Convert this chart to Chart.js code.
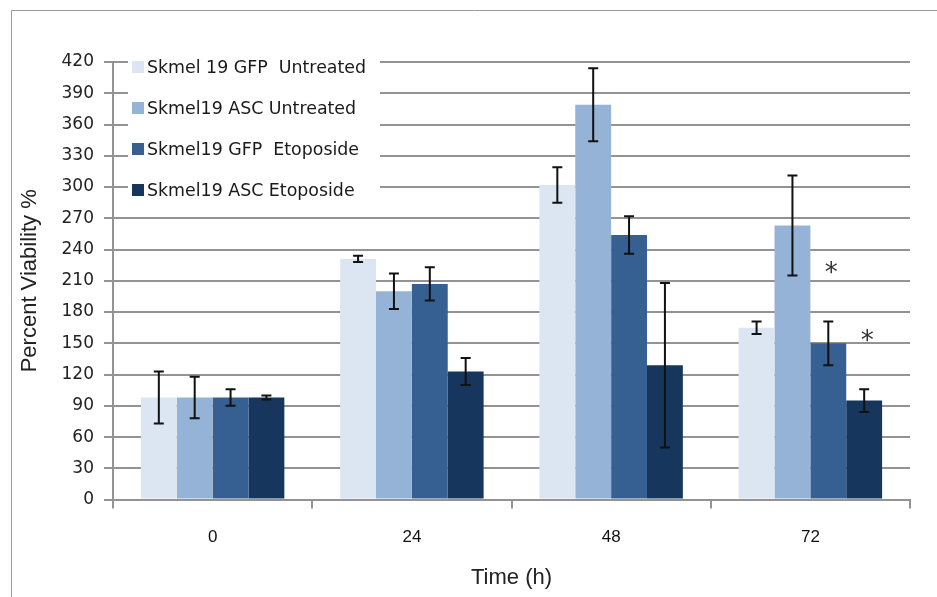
<!DOCTYPE html>
<html lang="en">
<head>
  <meta charset="UTF-8" />
  <title>Skmel19 viability</title>
  <script src="https://cdn.jsdelivr.net/npm/chart.js@4.4.1/dist/chart.umd.min.js"></script>
  <style>
    html, body { margin: 0; padding: 0; background: #fff; }
    #wrap { width: 937px; height: 597px; position: relative; }
  </style>
</head>
<body>
  <div id="wrap"><canvas id="chart"></canvas></div>
  <script>
// time points and the four cell lines
const hours = ['0', '24', '48', '72']
const seriesNames = [
  'Skmel 19 GFP  Untreated',
  'Skmel19 ASC Untreated',
  'Skmel19 GFP  Etoposide',
  'Skmel19 ASC Etoposide'
]
const seriesColors = ['#dce6f2', '#95b3d7', '#366092', '#17365d']

// mean percent viability per time point
const gfpUntreated = [98, 231, 302, 165]
const ascUntreated = [98, 200, 379, 263]
const gfpEtoposide = [98, 207, 254, 150]
const ascEtoposide = [98, 123, 129, 95]

// error bar half-widths
const gfpUntreatedErr = [25, 3, 17, 6]
const ascUntreatedErr = [20, 17, 35, 48]
const gfpEtoposideErr = [8, 16, 18, 21]
const ascEtoposideErr = [2, 13, 79, 11]

// significance stars: [series index, time index]
const stars = [[2, 3], [3, 3]]

const yTicks = [0, 30, 60, 90, 120, 150, 180, 210, 240, 270, 300, 330, 360, 390, 420]

const values = [gfpUntreated, ascUntreated, gfpEtoposide, ascEtoposide]
const errors = [gfpUntreatedErr, ascUntreatedErr, gfpEtoposideErr, ascEtoposideErr]

const gridGray = '#939393'

// frame lines on the top and left of the figure
const framePlugin = {
  id: 'frame',
  beforeDraw(chart) {
    const ctx = chart.ctx
    ctx.save()
    ctx.strokeStyle = '#9a9a9a'
    ctx.lineWidth = 1
    ctx.beginPath()
    ctx.moveTo(11.5, 597)
    ctx.lineTo(11.5, 10.5)
    ctx.lineTo(937, 10.5)
    ctx.stroke()
    ctx.restore()
  }
}

const errorBarPlugin = {
  id: 'errorBars',
  afterDatasetsDraw(chart) {
    const ctx = chart.ctx
    const y = chart.scales.y
    ctx.save()
    ctx.strokeStyle = '#111'
    ctx.lineWidth = 2
    chart.data.datasets.forEach((ds, i) => {
      const meta = chart.getDatasetMeta(i)
      meta.data.forEach((bar, j) => {
        const v = values[i][j]
        const e = errors[i][j]
        const top = y.getPixelForValue(v + e)
        const bot = y.getPixelForValue(v - e)
        ctx.beginPath()
        ctx.moveTo(bar.x, top)
        ctx.lineTo(bar.x, bot)
        ctx.moveTo(bar.x - 5, top)
        ctx.lineTo(bar.x + 5, top)
        ctx.moveTo(bar.x - 5, bot)
        ctx.lineTo(bar.x + 5, bot)
        ctx.stroke()
      })
    })
    // stars above the error bars
    ctx.fillStyle = '#333'
    ctx.font = '26px "DejaVu Sans"'
    ctx.textAlign = 'center'
    ctx.textBaseline = 'middle'
    stars.forEach(([i, j]) => {
      const bar = chart.getDatasetMeta(i).data[j]
      const top = y.getPixelForValue(values[i][j] + errors[i][j])
      ctx.fillText('*', bar.x + 3, top - 47)
    })
    ctx.restore()
  }
}

// legend box sitting inside the plot, top left
const insideLegend = {
  id: 'insideLegend',
  afterDraw(chart) {
    const ctx = chart.ctx
    const area = chart.chartArea
    ctx.save()
    ctx.fillStyle = '#fff'
    ctx.fillRect(area.left + 15, 48, 252, 162)
    ctx.font = '17.4px "DejaVu Sans"'
    ctx.textBaseline = 'middle'
    chart.data.datasets.forEach((ds, i) => {
      const cy = 67 + i * 41
      ctx.fillStyle = ds.backgroundColor
      ctx.fillRect(area.left + 19, cy - 6, 12, 12)
      ctx.fillStyle = '#1a1a1a'
      ctx.fillText(ds.label, area.left + 34, cy + 1)
    })
    ctx.restore()
  }
}

const ctx = document.getElementById('chart')
new Chart(ctx, {
  type: 'bar',
  data: {
    labels: hours,
    datasets: values.map((vals, i) => ({
      label: seriesNames[i],
      data: vals,
      backgroundColor: seriesColors[i],
      borderWidth: 0,
      categoryPercentage: 0.72,
      barPercentage: 1
    }))
  },
  options: {
    responsive: true,
    maintainAspectRatio: false,
    animation: false,
    layout: { padding: { top: 62, right: 27, left: 17, bottom: 8 } },
    plugins: {
      legend: { display: false },
      tooltip: { enabled: false }
    },
    scales: {
      x: {
        grid: { offset: true, drawOnChartArea: false, color: gridGray, lineWidth: 2, tickLength: 9 },
        border: { color: gridGray, width: 2 },
        ticks: { color: '#111', font: { family: 'Liberation Sans', size: 17 }, padding: 19 },
        title: {
          display: true,
          text: 'Time (h)',
          color: '#222',
          font: { family: 'Liberation Sans', size: 22, lineHeight: 1 },
          padding: { top: 0, bottom: 0 }
        }
      },
      y: {
        min: 0,
        max: 420,
        afterBuildTicks(scale) {
          scale.ticks = yTicks.map(v => ({ value: v }))
        },
        afterFit(scale) { scale.width = 96 },
        grid: { color: gridGray, lineWidth: 2, tickLength: 9 },
        border: { color: gridGray, width: 2 },
        ticks: { color: '#222', font: { family: 'DejaVu Sans', size: 17 }, padding: 10 },
        title: {
          display: true,
          text: 'Percent Viability %',
          color: '#222',
          font: { family: 'Liberation Sans', size: 22 },
          padding: { top: 0, bottom: 0 }
        }
      }
    }
  },
  plugins: [framePlugin, errorBarPlugin, insideLegend]
})
  </script>
</body>
</html>
